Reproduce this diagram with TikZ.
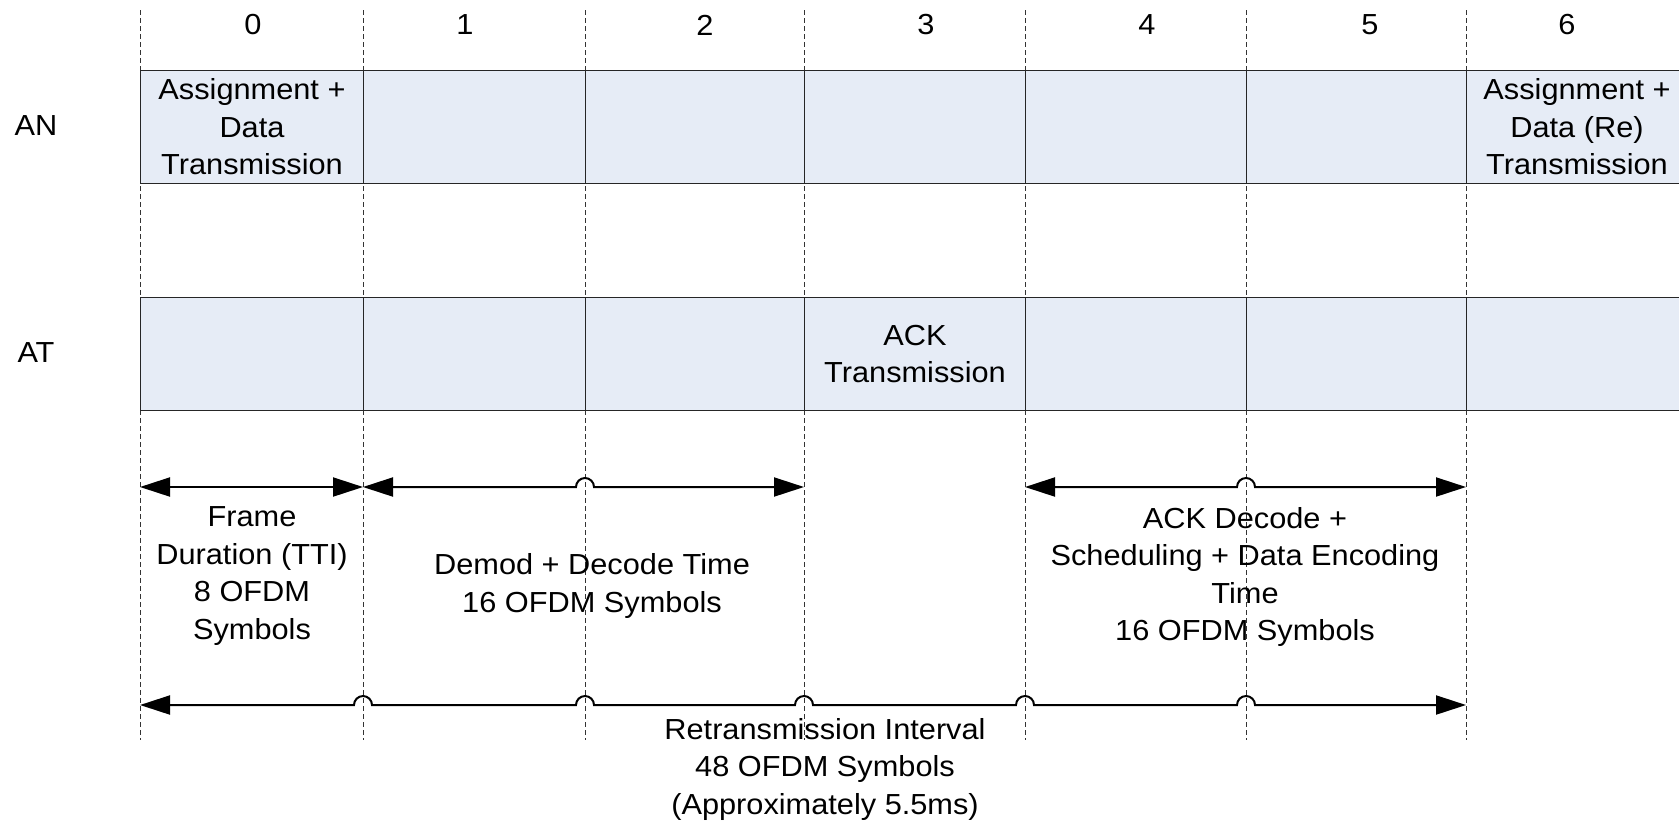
\documentclass[tikz,border=0pt]{standalone}
\usepackage{fontspec}
\setmainfont{Liberation Sans}[FakeStretch=1.06]
\usetikzlibrary{arrows.meta,calc}
\definecolor{slotfill}{RGB}{230,236,246}
\begin{document}
\begin{tikzpicture}[x=0.5pt,y=-0.5pt,
  txt/.style={font=\fontsize{14.5}{18.75}\selectfont, align=center, inner sep=0pt},
  slot/.style={draw=black!85, line width=0.5pt, fill=slotfill,
    minimum height=56.5pt, inner sep=0pt, anchor=north west, align=center,
    font=\fontsize{14.5}{18.75}\selectfont},
  guide/.style={draw=black!80, dash pattern=on 2.5pt off 1.5pt, line width=0.5pt},
  dimline/.style={line width=1pt, {Triangle[length=15pt,width=9.5pt]}-{Triangle[length=15pt,width=9.5pt]}}
]
\useasboundingbox (0,0) rectangle (1679,826);
\clip (0,0) rectangle (1679,826);

% guide lines
\foreach \x [count=\c from 0] in {140,363,585,804,1025,1246,1466} {
  \coordinate (gt\c) at (\x,10);
  \coordinate (gb\c) at (\x,740);
  \draw[guide] (gt\c) -- (gb\c);
  \coordinate (p\c) at (\x,487);
  \coordinate (q\c) at (\x,705);
}

% slots
\foreach \x/\w [count=\c from 0] in {140/223,363/222,585/219,804/221,1025/221,1246/220,1466/221} {
  \ifnum\c=0\else\ifnum\c=6\else
    \node[slot, minimum width=\w*0.5pt] (an\c) at (\x,70) {};
  \fi\fi
  \ifnum\c=3\else
    \node[slot, minimum width=\w*0.5pt] (at\c) at (\x,297) {};
  \fi
}
\node[slot, minimum width=111.5pt] (an0) at (140,70) {Assignment +\\Data\\Transmission};
\node[slot, minimum width=110.5pt] (an6) at (1466,70) {Assignment +\\Data (Re)\\Transmission};
\node[slot, minimum width=110.5pt] (at3) at (804,297) {ACK\\Transmission};

% column numbers
\node[txt] (n0) at (253,25) {0};
\node[txt] (n1) at (465,25) {1};
\node[txt] (n2) at (705,25) {2};
\node[txt] (n3) at (926,25) {3};
\node[txt] (n4) at (1147,25) {4};
\node[txt] (n5) at (1370,25) {5};
\node[txt] (n6) at (1567,25) {6};

% row labels
\node[txt] (lan) at (36,126) {AN};
\node[txt] (lat) at (36,353) {AT};

% dimension arrows
\draw[dimline] (p0) -- (p1);
\draw[dimline] (p1) -- ($(p2)+(-4.5pt,0)$) arc[start angle=180,end angle=0,radius=4.5pt] -- (p3);
\draw[dimline] (p4) -- ($(p5)+(-4.5pt,0)$) arc[start angle=180,end angle=0,radius=4.5pt] -- (p6);
\draw[dimline] (q0)
  -- ($(q1)+(-4.5pt,0)$) arc[start angle=180,end angle=0,radius=4.5pt]
  -- ($(q2)+(-4.5pt,0)$) arc[start angle=180,end angle=0,radius=4.5pt]
  -- ($(q3)+(-4.5pt,0)$) arc[start angle=180,end angle=0,radius=4.5pt]
  -- ($(q4)+(-4.5pt,0)$) arc[start angle=180,end angle=0,radius=4.5pt]
  -- ($(q5)+(-4.5pt,0)$) arc[start angle=180,end angle=0,radius=4.5pt]
  -- (q6);

% dimension labels
\node[txt] (tframe) at (252,576) {Frame\\Duration (TTI)\\8 OFDM\\Symbols};
\node[txt] (tdemod) at (592,586) {Demod + Decode Time\\16 OFDM Symbols};
\node[txt] (tack) at (1245,577) {ACK Decode +\\Scheduling + Data Encoding\\Time\\16 OFDM Symbols};
\node[txt] (tretx) at (825,769) {Retransmission Interval\\48 OFDM Symbols\\(Approximately 5.5ms)};
\end{tikzpicture}
\end{document}
